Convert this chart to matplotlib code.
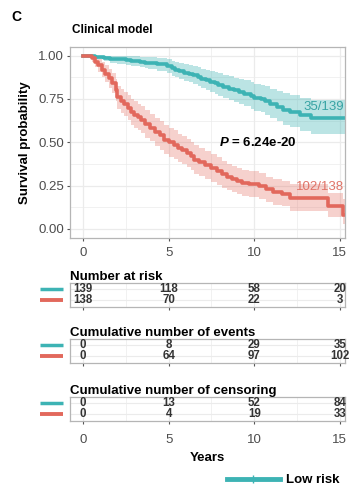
import numpy as np
import matplotlib
matplotlib.use('Agg')
import matplotlib.pyplot as plt
from matplotlib.lines import Line2D
import matplotlib.transforms as mtransforms

plt.rcParams['font.family'] = ['Liberation Sans', 'DejaVu Sans']
plt.rcParams['mathtext.fontset'] = 'custom'
plt.rcParams['mathtext.it'] = 'Liberation Sans:italic:bold'

# Kaplan-Meier steps, low risk group
low_t  = [0, 0.7, 1.2, 1.6, 2.0, 2.5, 2.8, 3.3, 3.6, 3.8, 4.3, 4.9, 5.2, 5.4, 5.6, 5.9, 6.2, 6.4, 6.7, 6.9,
          7.2, 7.4, 7.7, 7.9, 8.2, 8.5, 8.8, 9.1, 9.4, 9.8, 10.0, 10.4, 10.6, 10.9, 11.3, 11.7, 12.1, 12.7, 13.3, 15.5]
low_s  = [1.0, 0.993, 0.986, 0.982, 0.978, 0.975, 0.971, 0.964, 0.96, 0.956, 0.949, 0.94, 0.928, 0.92, 0.91, 0.90,
          0.895, 0.886, 0.876, 0.867, 0.858, 0.85, 0.84, 0.83, 0.82, 0.81, 0.80, 0.79, 0.78, 0.765, 0.753, 0.748,
          0.738, 0.72, 0.705, 0.686, 0.676, 0.657, 0.638, 0.638]
low_lo = [1.0, 0.98, 0.967, 0.96, 0.953, 0.947, 0.942, 0.933, 0.927, 0.921, 0.912, 0.90, 0.885, 0.875, 0.864, 0.852,
          0.845, 0.835, 0.823, 0.812, 0.801, 0.792, 0.78, 0.769, 0.757, 0.745, 0.733, 0.722, 0.71, 0.693, 0.68, 0.673,
          0.66, 0.64, 0.622, 0.60, 0.588, 0.567, 0.545, 0.545]
low_hi = [1.0, 1.0, 1.0, 1.0, 1.0, 1.0, 0.998, 0.994, 0.992, 0.99, 0.986, 0.98, 0.972, 0.966, 0.958, 0.95,
          0.946, 0.94, 0.932, 0.925, 0.918, 0.912, 0.905, 0.897, 0.889, 0.881, 0.873, 0.865, 0.857, 0.845, 0.835, 0.831,
          0.823, 0.81, 0.797, 0.782, 0.775, 0.758, 0.745, 0.745]

# Kaplan-Meier steps, high risk group
high_t  = [0, 0.5, 0.7, 0.9, 1.1, 1.3, 1.5, 1.7, 1.9, 2.0, 2.2, 2.4, 2.6, 2.8, 3.0, 3.2, 3.4, 3.6, 3.9, 4.2,
           4.5, 4.75, 5.0, 5.3, 5.55, 5.8, 6.1, 6.3, 6.5, 6.8, 7.1, 7.5, 7.8, 8.1, 8.4, 8.7, 9.0, 9.3, 9.7, 10.3,
           10.7, 11.1, 11.6, 12.1, 14.3, 15.2, 15.5]
high_s  = [1.0, 0.985, 0.965, 0.945, 0.92, 0.895, 0.87, 0.84, 0.80, 0.76, 0.74, 0.72, 0.70, 0.675, 0.66, 0.645,
           0.63, 0.605, 0.585, 0.56, 0.54, 0.515, 0.50, 0.485, 0.467, 0.455, 0.438, 0.42, 0.40, 0.385, 0.37, 0.352,
           0.335, 0.315, 0.30, 0.286, 0.275, 0.265, 0.258, 0.248, 0.229, 0.21, 0.20, 0.181, 0.133, 0.08, 0.08]
high_lo = [1.0, 0.965, 0.935, 0.908, 0.876, 0.846, 0.816, 0.782, 0.737, 0.693, 0.671, 0.649, 0.627, 0.60, 0.584, 0.568,
           0.552, 0.526, 0.505, 0.479, 0.458, 0.432, 0.417, 0.402, 0.384, 0.372, 0.355, 0.338, 0.318, 0.304, 0.289, 0.272,
           0.256, 0.237, 0.223, 0.21, 0.20, 0.19, 0.184, 0.175, 0.157, 0.14, 0.131, 0.105, 0.067, 0.03, 0.03]
high_hi = [1.0, 1.0, 0.995, 0.982, 0.964, 0.944, 0.924, 0.898, 0.863, 0.827, 0.809, 0.791, 0.773, 0.75, 0.736, 0.722,
           0.708, 0.684, 0.665, 0.641, 0.622, 0.598, 0.583, 0.568, 0.55, 0.538, 0.521, 0.502, 0.482, 0.466, 0.451, 0.432,
           0.414, 0.393, 0.377, 0.362, 0.35, 0.34, 0.332, 0.321, 0.301, 0.285, 0.275, 0.26, 0.205, 0.17, 0.17]

# tables under the curve
years       = [0, 5, 10, 15]
risk_low    = [139, 118, 58, 20]
risk_high   = [138, 70, 22, 3]
events_low  = [0, 8, 29, 35]
events_high = [0, 64, 97, 102]
cens_low    = [0, 13, 52, 84]
cens_high   = [0, 4, 19, 33]

teal = '#3DB3B4'
red  = '#E2685C'
grid_c = '#EBEBEB'
border_c = '#B5B5B5'
xlim = (-0.76, 15.3)

fig = plt.figure(figsize=(3.49, 4.88), dpi=100, facecolor='white')

ax = fig.add_axes([0.2006, 0.5133, 0.788, 0.3904])
ax.fill_between(low_t, low_lo, low_hi, step='post', color=teal, alpha=0.35, lw=0)
ax.fill_between(high_t, high_lo, high_hi, step='post', color=red, alpha=0.3, lw=0)
ax.step(low_t, low_s, where='post', color=teal, lw=2.6)
ax.step(high_t, high_s, where='post', color=red, lw=2.6)

ax.set_xlim(*xlim)
ax.set_ylim(-0.05, 1.05)
ax.set_xticks(years)
ax.set_xticks([2.5, 7.5, 12.5], minor=True)
ax.set_yticks([0, 0.25, 0.5, 0.75, 1.0])
ax.set_yticks([0.125, 0.375, 0.625, 0.875], minor=True)
ax.set_yticklabels(['0.00', '0.25', '0.50', '0.75', '1.00'])
ax.grid(which='major', color=grid_c, lw=0.9)
ax.grid(which='minor', color=grid_c, lw=0.5)
ax.set_axisbelow(True)
for s in ax.spines.values():
    s.set_color(border_c)
    s.set_linewidth(0.9)
ax.tick_params(which='major', length=2.5, width=0.8, color='#555555', labelcolor='#4D4D4D', labelsize=9.5, pad=2)
ax.tick_params(axis='x', which='major', pad=4.5)
ax.tick_params(which='minor', length=0)
ax.set_ylabel('Survival probability', fontsize=9.5, fontweight='bold', labelpad=5)

ax.text(15.25, 0.705, '35/139', ha='right', va='center', color='#37A3A4', fontsize=9.5)
ax.text(15.25, 0.243, '102/138', ha='right', va='center', color='#E07468', fontsize=9.5)
ax.text(10.2, 0.497, r'$\mathit{P}$ = 6.24e-20', ha='center', va='center', fontsize=9.5, fontweight='bold')

fig.text(0.206, 0.9385, 'Clinical model', fontsize=8.5, fontweight='bold', va='center')
fig.text(0.034, 0.9658, 'C', fontsize=10, fontweight='bold', va='center')


def draw_table(rect, title, vals_low, vals_high, last=False):
    tax = fig.add_axes(rect)
    tax.set_xlim(*xlim)
    tax.set_ylim(0.3, 2.55)
    for x, a, b in zip(years, vals_low, vals_high):
        tax.text(x, 2, str(a), ha='center', va='center', fontsize=8.3, fontweight='bold', color='#333333')
        tax.text(x, 1, str(b), ha='center', va='center', fontsize=8.3, fontweight='bold', color='#333333')
    tax.set_xticks(years)
    tax.set_xticks([2.5, 7.5, 12.5], minor=True)
    tax.set_yticks([1, 2])
    tax.set_yticklabels([])
    tax.grid(which='major', color=grid_c, lw=0.8)
    tax.grid(which='minor', axis='x', color=grid_c, lw=0.5)
    tax.set_axisbelow(True)
    for s in tax.spines.values():
        s.set_color(border_c)
        s.set_linewidth(0.9)
    tax.tick_params(axis='y', length=0)
    tax.tick_params(axis='x', which='minor', length=0)
    tax.tick_params(axis='x', which='major', length=2.5, width=0.8, color='#555555',
                    labelcolor='#4D4D4D', labelsize=9.5, pad=7)
    if not last:
        tax.set_xticklabels([])
    else:
        tax.set_xlabel('Years', fontsize=9.5, fontweight='bold', labelpad=4)
    # strata colour keys in place of y labels
    trans = mtransforms.blended_transform_factory(tax.transAxes, tax.transData)
    tax.plot([-0.109, -0.027], [2, 2], transform=trans, color=teal, lw=2.5, clip_on=False, solid_capstyle='butt')
    tax.plot([-0.109, -0.027], [1, 1], transform=trans, color=red, lw=2.8, clip_on=False, solid_capstyle='butt')
    tax.set_title(title, loc='left', fontsize=9.5, fontweight='bold', pad=2.5)
    return tax


draw_table([0.2006, 0.3709, 0.788, 0.0492], 'Number at risk', risk_low, risk_high)
draw_table([0.2006, 0.2561, 0.788, 0.0492], 'Cumulative number of events', events_low, events_high)
draw_table([0.2006, 0.1373, 0.788, 0.0492], 'Cumulative number of censoring', cens_low, cens_high, last=True)

handle = Line2D([], [], color=teal, lw=3.5, marker='|', markersize=6, markeredgewidth=1.0)
fig.legend(handles=[handle], labels=['Low risk'], loc='center left',
           bbox_to_anchor=(227 / 349, 1 - 480 / 488), frameon=False, handlelength=4.0,
           handletextpad=0.5, borderpad=0, borderaxespad=0,
           prop={'weight': 'bold', 'size': 9.5})

fig.savefig('out.png', dpi=100, facecolor='white')
